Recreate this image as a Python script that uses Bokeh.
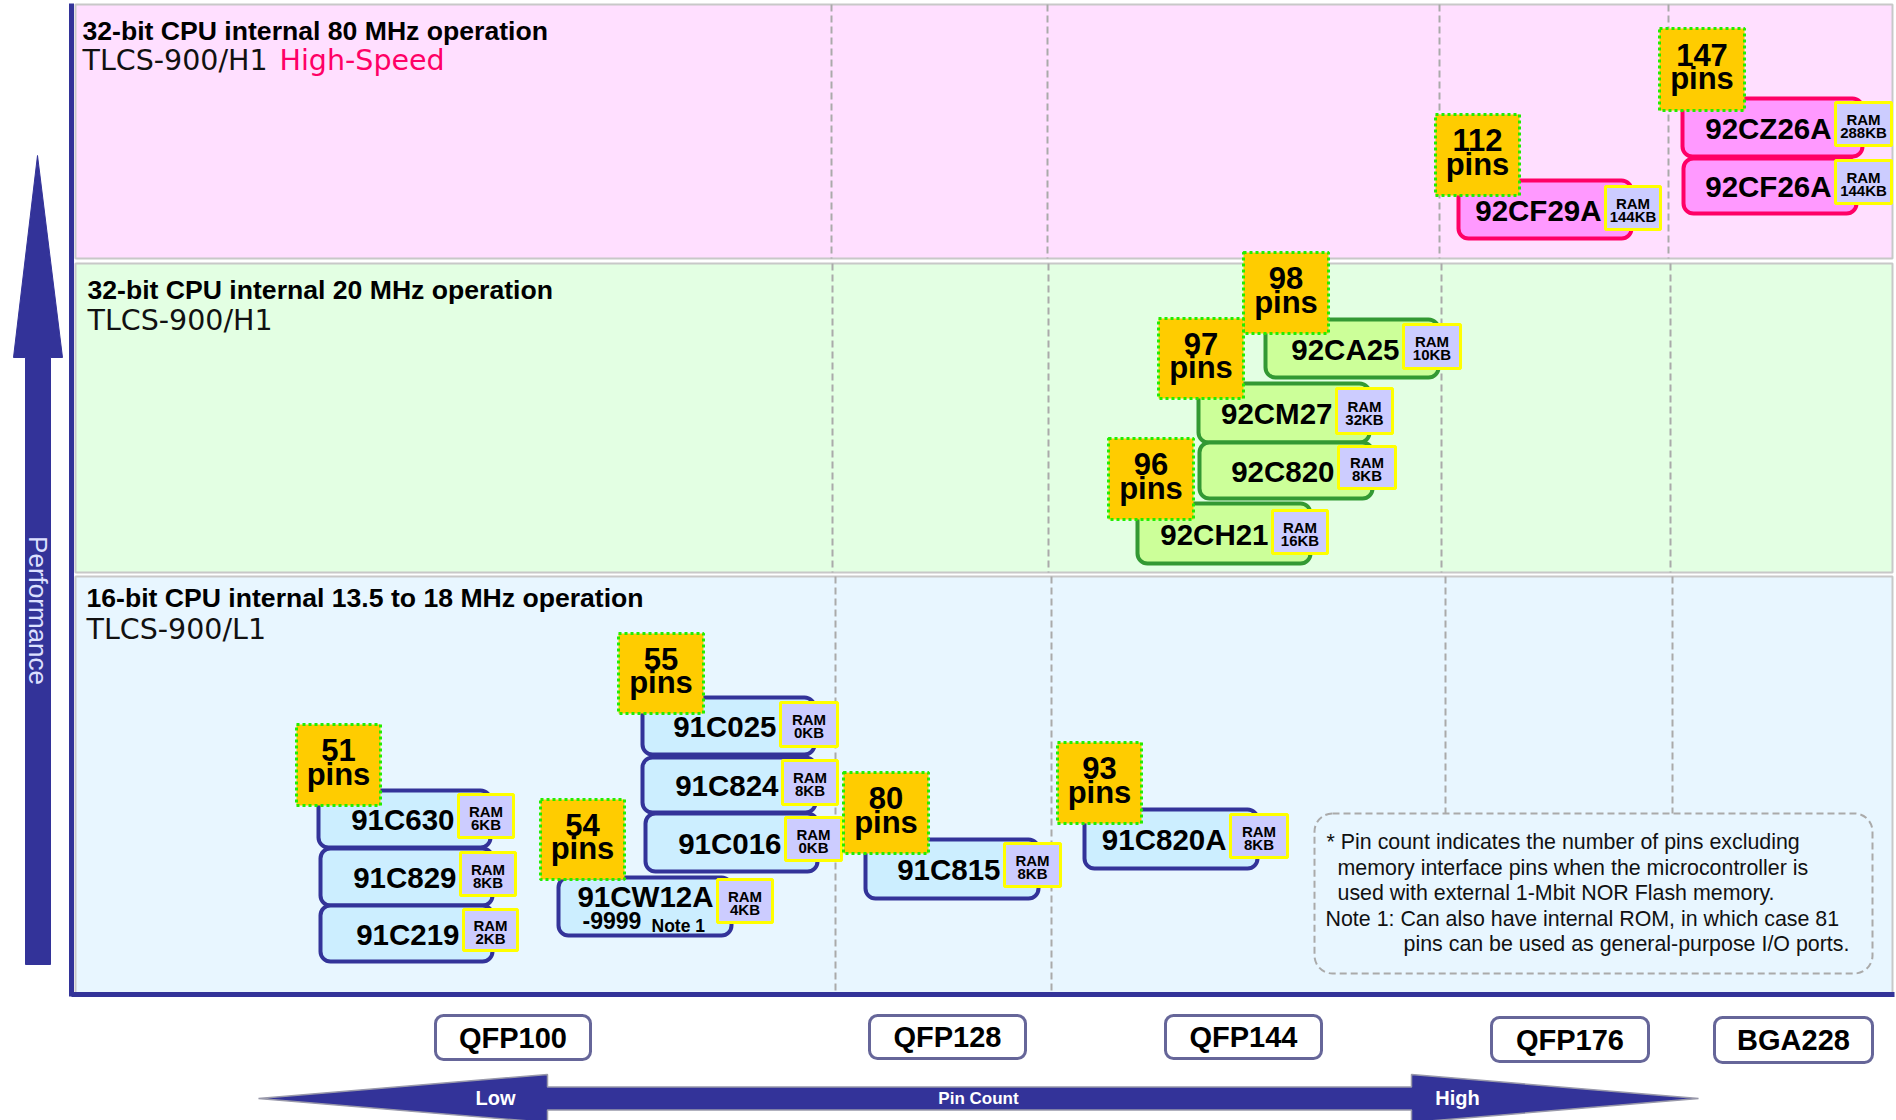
import math
from bokeh.plotting import figure
from bokeh.models import Range1d, ColumnDataSource
from bokeh.core.properties import value
from bokeh.embed import file_html
from bokeh.resources import INLINE

# ---------------- data ----------------
band_titles = ["32-bit CPU internal 80 MHz operation",
               "32-bit CPU internal 20 MHz operation",
               "16-bit CPU internal 13.5 to 18 MHz operation"]
band_subtitles = ["TLCS-900/H1", "TLCS-900/H1", "TLCS-900/L1"]
band_tag = "High-Speed"

chip_names = ["92CZ26A", "92CF26A", "92CF29A",
              "92CA25", "92CM27", "92C820", "92CH21",
              "91C630", "91C829", "91C219", "91CW12A",
              "91C025", "91C824", "91C016", "91C815", "91C820A"]
chip_ram = ["288KB", "144KB", "144KB",
            "10KB", "32KB", "8KB", "16KB",
            "6KB", "8KB", "2KB", "4KB",
            "0KB", "8KB", "0KB", "8KB", "8KB"]
chip_band = [0, 0, 0, 1, 1, 1, 1, 2, 2, 2, 2, 2, 2, 2, 2, 2]
chip_suffix = "-9999"
chip_note = "Note 1"

pin_counts = [147, 112, 98, 97, 96, 51, 55, 54, 80, 93]
packages = ["QFP100", "QFP128", "QFP144", "QFP176", "BGA228"]

note_lines = ["* Pin count indicates the number of pins excluding",
              "memory interface pins when the microcontroller is",
              "used with external 1-Mbit NOR Flash memory.",
              "Note 1: Can also have internal ROM, in which case 81",
              "pins can be used as general-purpose I/O ports."]
y_label = "Performance"
x_label = "Pin Count"
x_low, x_high = "Low", "High"

# ---------------- layout (reference pixel coordinates) ----------------
band_boxes = [(75, 4, 1892, 258), (75, 263, 1892, 572), (75, 576, 1892, 994)]
band_title_pos = [(82, 40, 70), (87, 299, 330), (86, 607, 639)]
tag_x = 279
dash_x = [[831, 1047, 1439, 1668], [832, 1048, 1441, 1670], [835, 1051, 1445, 1672]]
dash_bottom = [[258, 258, 258, 258], [572, 572, 572, 572], [994, 994, 813, 813]]

chip_boxes = [(1682, 98, 1862, 156), (1683, 158, 1856, 213), (1458, 180, 1631, 238),
              (1265, 319, 1438, 377), (1198, 383, 1369, 442), (1199, 442, 1372, 498), (1137, 503, 1310, 563),
              (318, 790, 490, 847), (320, 848, 492, 905), (320, 905, 492, 961), (558, 877, 731, 935),
              (642, 697, 814, 754), (642, 757, 815, 812), (645, 813, 817, 871), (865, 839, 1038, 898),
              (1084, 809, 1257, 868)]
ram_boxes = [(1835, 102, 1891, 145), (1835, 160, 1891, 203), (1605, 186, 1660, 229),
             (1403, 324, 1460, 368), (1336, 388, 1392, 433), (1338, 446, 1395, 488), (1272, 510, 1327, 553),
             (458, 794, 513, 837), (460, 852, 515, 895), (463, 909, 517, 950), (717, 879, 772, 922),
             (780, 702, 837, 746), (782, 760, 837, 804), (785, 817, 841, 860), (1004, 843, 1060, 886),
             (1230, 814, 1287, 857)]
pin_boxes = [(1659, 28, 1744, 110), (1435, 114, 1519, 195),
             (1243, 252, 1328, 333), (1158, 318, 1243, 398), (1108, 438, 1193, 519),
             (296, 724, 380, 805), (618, 633, 703, 713), (540, 799, 624, 879),
             (843, 772, 928, 853), (1057, 742, 1141, 823)]
package_boxes = [(435, 1015, 590, 1059), (869, 1015, 1025, 1058), (1165, 1015, 1321, 1058),
                 (1491, 1017, 1648, 1061), (1714, 1017, 1872, 1062)]
note_box = (1314, 813, 1872, 973)
note_pos = [(1326, 849), (1337, 875), (1337, 900), (1325, 926), (1403, 951)]

band_fill = ["#ffdfff", "#e3ffe3", "#e8f6ff"]
chip_fill = ["#ff99ff", "#ccff99", "#cceeff"]
chip_line = ["#ff0066", "#339933", "#333399"]
NAVY = "#333399"

FONT = value("Liberation Sans")
SUBFONT = value("DejaVu Sans")
BASE_SHIFT = 0.34  # renderer places alphabetic baselines lower; compensate


def bl(y, size):
    return y - BASE_SHIFT * size


p = figure(width=1896, height=1120, x_range=Range1d(0, 1896), y_range=Range1d(1120, 0),
           output_backend="svg", toolbar_location=None, min_border=0,
           x_axis_location=None, y_axis_location=None,
           background_fill_color="white", border_fill_color="white")
p.grid.visible = False
p.outline_line_color = None


def cols(boxes):
    return dict(left=[b[0] for b in boxes], top=[b[1] for b in boxes],
                right=[b[2] for b in boxes], bottom=[b[3] for b in boxes])


def txt(xs, ys, texts, size, bold=False, font=FONT, align="left", color="black"):
    p.text(x=xs, y=[bl(y, size) for y in ys], text=texts, text_font=font,
           text_font_style="bold" if bold else "normal", text_font_size=f"{size}px",
           text_align=align, text_baseline="alphabetic", text_color=color)


# bands
p.quad(source=ColumnDataSource(dict(**cols(band_boxes), fill=band_fill)),
       left="left", right="right", top="top", bottom="bottom",
       fill_color="fill", line_color="#c8c8c8", line_width=2)

# dashed guides
sx, sy0, sy1 = [], [], []
for bi, xs in enumerate(dash_x):
    for j, x in enumerate(xs):
        sx.append(x)
        sy0.append(band_boxes[bi][1])
        sy1.append(dash_bottom[bi][j])
p.segment(x0=sx, y0=sy0, x1=sx, y1=sy1, line_color="#aaaaaa", line_width=2, line_dash="7 4")

# axes lines
p.segment(x0=[71], y0=[3], x1=[71], y1=[996], line_color=NAVY, line_width=5)
p.segment(x0=[71], y0=[994], x1=[1894], y1=[994], line_color=NAVY, line_width=5)

# band titles
for i, (tx, ty, sy) in enumerate(band_title_pos):
    txt([tx], [ty], [band_titles[i]], 26.6, bold=True)
    txt([tx], [sy], [band_subtitles[i]], 28.5, font=SUBFONT, color="#111111")
txt([tag_x], [band_title_pos[0][2]], [band_tag], 28.5, font=SUBFONT, color="#ff0066")

# note box
p.quad(left=[note_box[0]], top=[note_box[1]], right=[note_box[2]], bottom=[note_box[3]],
       fill_color=None, line_color="#aaaaaa", line_width=2, line_dash="7 4", border_radius=18)
txt([q[0] for q in note_pos], [q[1] for q in note_pos], note_lines, 21.4, color="#111111")

# chips
p.quad(source=ColumnDataSource(dict(**cols(chip_boxes),
                                    fill=[chip_fill[b] for b in chip_band],
                                    line=[chip_line[b] for b in chip_band])),
       left="left", right="right", top="top", bottom="bottom",
       fill_color="fill", line_color="line", line_width=4, border_radius=10)

# chip names
nx, ny = [], []
for i, name in enumerate(chip_names):
    l, t, r, b = chip_boxes[i]
    nx.append(ram_boxes[i][0] - 4)
    ny.append(t + 29 if name == "91CW12A" else (t + b) / 2 + 11)
txt(nx, ny, chip_names, 29.5, bold=True, align="right")
iw = chip_names.index("91CW12A")
txt([chip_boxes[iw][0] + 24], [chip_boxes[iw][1] + 51], [chip_suffix], 23, bold=True)
txt([chip_boxes[iw][0] + 93], [chip_boxes[iw][1] + 54], [chip_note], 17.5, bold=True)

# RAM boxes
p.quad(source=ColumnDataSource(cols(ram_boxes)), left="left", right="right", top="top", bottom="bottom",
       fill_color="#ccccff", line_color="#ffff00", line_width=3)
rc_x = [(b[0] + b[2]) / 2 for b in ram_boxes]
rc_y = [(b[1] + b[3]) / 2 for b in ram_boxes]
txt(rc_x, [y + 0.5 for y in rc_y], ["RAM"] * len(ram_boxes), 15, bold=True, align="center")
txt(rc_x, [y + 13.5 for y in rc_y], chip_ram, 15, bold=True, align="center")

# pin boxes
p.quad(source=ColumnDataSource(cols(pin_boxes)), left="left", right="right", top="top", bottom="bottom",
       fill_color="#ffcc00", line_color="#22ee00", line_width=3, line_dash="3 3")
pc_x = [(b[0] + b[2]) / 2 for b in pin_boxes]
pc_y = [(b[1] + b[3]) / 2 for b in pin_boxes]
txt(pc_x, [y - 4 for y in pc_y], [str(n) for n in pin_counts], 31, bold=True, align="center")
txt(pc_x, [y + 20 for y in pc_y], ["pins"] * len(pin_counts), 31, bold=True, align="center")

# packages
p.quad(source=ColumnDataSource(cols(package_boxes)), left="left", right="right", top="top", bottom="bottom",
       fill_color="white", line_color="#666699", line_width=3, border_radius=8)
txt([(b[0] + b[2]) / 2 for b in package_boxes], [(b[1] + b[3]) / 2 + 10 for b in package_boxes],
    packages, 29, bold=True, align="center")

# performance arrow
v_tip, v_base, v_bottom = (37, 155), 357, 964
v_head, v_shaft = (13, 62), (25, 50)
p.patch(x=[v_tip[0], v_head[1], v_shaft[1], v_shaft[1], v_shaft[0], v_shaft[0], v_head[0]],
        y=[v_tip[1], v_base, v_base, v_bottom, v_bottom, v_base, v_base],
        fill_color=NAVY, line_color=NAVY, line_width=1)
p.text(x=[37], y=[610], text=[y_label], angle=-math.pi / 2, text_font=FONT, text_font_size="26px",
       text_align="center", text_baseline="middle", text_color="#dde0ff")

# pin count arrow
h_y, h_half, s_half = 1098, 24, 11.5
h_l_tip, h_l_base, h_r_base, h_r_tip = 258, 547, 1411, 1698
p.patch(x=[h_l_tip, h_l_base, h_l_base, h_r_base, h_r_base, h_r_tip, h_r_base, h_r_base, h_l_base, h_l_base],
        y=[h_y, h_y - h_half, h_y - s_half, h_y - s_half, h_y - h_half, h_y, h_y + h_half, h_y + s_half,
           h_y + s_half, h_y + h_half],
        fill_color=NAVY, line_color="#9999aa", line_width=1.5)
p.text(x=[495, 1457], y=[h_y - 1, h_y - 1], text=[x_low, x_high], text_font=FONT, text_font_style="bold",
       text_font_size="20px", text_align="center", text_baseline="middle", text_color="white")
p.text(x=[978], y=[h_y], text=[x_label], text_font=FONT, text_font_style="bold",
       text_font_size="17px", text_align="center", text_baseline="middle", text_color="white")

open("out.html", "w").write(file_html(p, INLINE))
